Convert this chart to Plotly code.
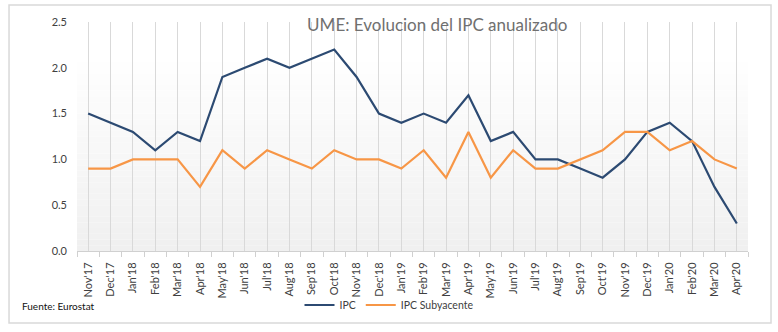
import plotly.graph_objects as go

months = ["Nov'17", "Dec'17", "Jan'18", "Feb'18", "Mar'18", "Apr'18", "May'18", "Jun'18",
          "Jul'18", "Aug'18", "Sep'18", "Oct'18", "Nov'18", "Dec'18", "Jan'19", "Feb'19",
          "Mar'19", "Apr'19", "May'19", "Jun'19", "Jul'19", "Aug'19", "Sep'19", "Oct'19",
          "Nov'19", "Dec'19", "Jan'20", "Feb'20", "Mar'20", "Apr'20"]
ipc = [1.5, 1.4, 1.3, 1.1, 1.3, 1.2, 1.9, 2.0, 2.1, 2.0, 2.1, 2.2, 1.9, 1.5, 1.4, 1.5,
       1.4, 1.7, 1.2, 1.3, 1.0, 1.0, 0.9, 0.8, 1.0, 1.3, 1.4, 1.2, 0.7, 0.3]
ipc_sub = [0.9, 0.9, 1.0, 1.0, 1.0, 0.7, 1.1, 0.9, 1.1, 1.0, 0.9, 1.1, 1.0, 1.0, 0.9, 1.1,
           0.8, 1.3, 0.8, 1.1, 0.9, 0.9, 1.0, 1.1, 1.3, 1.3, 1.1, 1.2, 1.0, 0.9]
y_ticks = [0.0, 0.5, 1.0, 1.5, 2.0, 2.5]

FONT = "Lato"
fig = go.Figure()

# dummy trace to carry the boundary-tick axis
fig.add_trace(go.Scatter(x=months, y=ipc, xaxis="x2", mode="lines",
                         line=dict(color="rgba(0,0,0,0)"), showlegend=False, hoverinfo="skip"))
fig.add_trace(go.Scatter(x=months, y=ipc, name="IPC", mode="lines",
                         line=dict(color="#2c4a72", width=2.2)))
fig.add_trace(go.Scatter(x=months, y=ipc_sub, name="IPC Subyacente", mode="lines",
                         line=dict(color="#f79646", width=2.2)))

# gradient background in plot area
shapes = []
n = 40
for i in range(n):
    t = i / n
    g = int(round(240 + (255 - 240) * min(1.0, t / 0.85)))
    shapes.append(dict(type="rect", xref="x domain", yref="y domain",
                       x0=0, x1=1, y0=i / n, y1=(i + 1) / n,
                       fillcolor=f"rgb({g},{g},{g})", line=dict(width=0), layer="below"))
# outer border
shapes.append(dict(type="rect", xref="paper", yref="paper",
                   x0=-0.1013, x1=1.0343, y0=-0.3144, y1=1.0742,
                   line=dict(color="#d9d9d9", width=1.5), fillcolor="rgba(0,0,0,0)"))

fig.update_layout(
    width=778, height=332,
    margin=dict(l=77, r=30, t=22, b=81, autoexpand=False),
    paper_bgcolor="white", plot_bgcolor="white",
    font=dict(family=FONT, color="#404040", size=10),
    title=dict(text="UME: Evolucion del IPC anualizado", x=0.562, xref="container",
               xanchor="center", y=1 - 25 / 332, yref="container", yanchor="middle",
               font=dict(family=FONT, size=17, color="#707070")),
    shapes=shapes,
    showlegend=True,
    legend=dict(orientation="h", xref="container", yref="container", x=0.5, xanchor="center",
                y=1 - 305 / 332, yanchor="middle", font=dict(size=10.5, color="#404040"),
                itemwidth=30, bgcolor="rgba(0,0,0,0)"),
    xaxis=dict(type="category", range=[-0.5, 29.5], showgrid=True, gridcolor="#d9d9d9",
               gridwidth=1, ticks="", showline=True, automargin=False,
               linecolor="#d0d0d0", linewidth=1, tickangle=-90, ticklabelstandoff=6,
               tickfont=dict(size=11, color="#404040"), fixedrange=True),
    xaxis2=dict(type="category", overlaying="x", matches="x", showgrid=False,
                tickson="boundaries", ticks="outside", ticklen=5, tickcolor="#d0d0d0",
                showticklabels=False, showline=False, side="bottom", automargin=False),
    yaxis=dict(range=[0, 2.5], tickvals=y_ticks, tickformat=".1f", showgrid=False,
               zeroline=False, showline=False, ticks="", ticklabelstandoff=9, automargin=False,
               tickfont=dict(size=11, color="#404040")),
    annotations=[dict(text="Fuente: Eurostat", xref="paper", yref="paper",
                      x=(20 - 77) / 671, y=(251 - 306) / 229, xanchor="left", yanchor="middle",
                      showarrow=False, font=dict(size=10, color="#111111"))],
)

fig.write_html("out.html")
